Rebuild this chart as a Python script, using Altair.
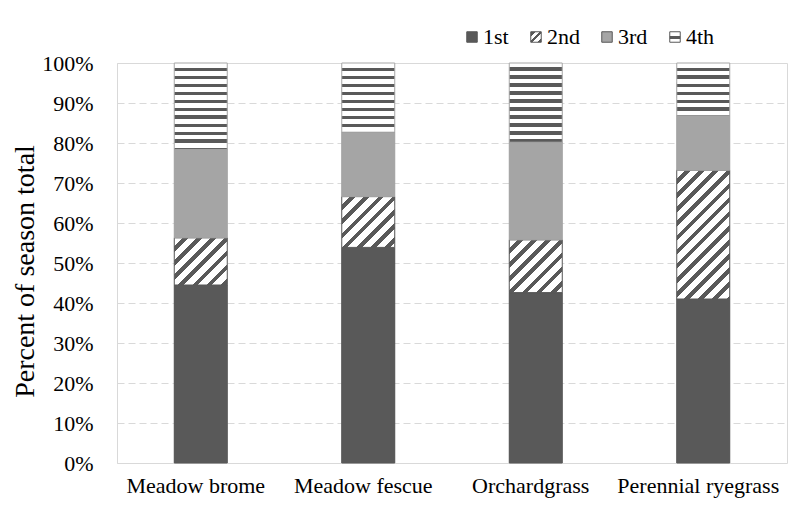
import math
import altair as alt
import pandas as pd

grasses = ["Meadow brome", "Meadow fescue", "Orchardgrass", "Perennial ryegrass"]
stages = ["1st", "2nd", "3rd", "4th"]
first = [44.5, 53.9, 42.6, 41.0]
second = [11.8, 12.7, 13.2, 32.2]
third = [22.1, 16.1, 24.4, 13.6]
fourth = [21.6, 17.3, 19.8, 13.2]
y_ticks = [0, 10, 20, 30, 40, 50, 60, 70, 80, 90, 100]

series = [first, second, third, fourth]
rows = []
for si, (stage, vals) in enumerate(zip(stages, series)):
    for g, v in zip(grasses, vals):
        rows.append({"grass": g, "stage": stage, "ord": si, "pct": v})
df = pd.DataFrame(rows)

DARK = "#595959"
LIGHT = "#a5a5a5"
WHITE = "#ffffff"
FONT = "Liberation Serif"

PLOT_W, PLOT_H = 670, 400
BAR_W = 53
PX = PLOT_H / 100.0  # pixels per percent


def stops(n, dark_frac, lead=WHITE, tail=DARK):
    out = []
    for i in range(n):
        a = i / n
        b = (i + 1) / n
        m = a + (1 - dark_frac) / n
        out.append("{offset:%.5f,color:'%s'}" % (a, lead))
        out.append("{offset:%.5f,color:'%s'}" % (m, lead))
        out.append("{offset:%.5f,color:'%s'}" % (m, tail))
        out.append("{offset:%.5f,color:'%s'}" % (b, tail))
    return "[" + ",".join(out) + "]"


H = "((datum.pct_end - datum.pct_start) * %g)" % PX
# horizontal stripes: period 8px, dark 3.5px, covering 400px
L_H = 400.0
horiz = "{gradient:'linear',x1:0,y1:0,x2:0,y2:(%g / %s),stops:%s}" % (
    L_H, H, stops(50, 3.5 / 8))
# diagonal stripes at 45 deg, perpendicular period 10px
N_D = 22
D = N_D * 10 * math.sqrt(2)
den = "(%d + %s * %s)" % (BAR_W * BAR_W, H, H)
diag = "{gradient:'linear',x1:0,y1:0,x2:(%g * %d / %s),y2:(%g * %s / %s),stops:%s}" % (
    D, BAR_W, den, D, H, den, stops(N_D, 0.4))

fill_expr = ("datum.stage === '2nd' ? %s : datum.stage === '4th' ? %s : "
             "datum.stage === '1st' ? '%s' : '%s'") % (diag, horiz, DARK, LIGHT)
stroke_expr = ("datum.stage === '2nd' ? '%s' : datum.stage === '4th' ? '#a6a6a6' : "
               "datum.stage === '1st' ? '%s' : '%s'") % (DARK, DARK, LIGHT)

leg2 = ("{gradient:'linear',x1:0,y1:0,x2:1,y2:1,stops:["
        "{offset:0,color:'%s'},{offset:0.22,color:'%s'},{offset:0.22,color:'%s'},"
        "{offset:0.44,color:'%s'},{offset:0.44,color:'%s'},{offset:0.58,color:'%s'},"
        "{offset:0.58,color:'%s'},{offset:0.8,color:'%s'},{offset:0.8,color:'%s'},"
        "{offset:1,color:'%s'}]}") % (DARK, DARK, WHITE, WHITE, DARK, DARK,
                                       WHITE, WHITE, DARK, DARK)
leg4 = ("{gradient:'linear',x1:0,y1:0,x2:0,y2:1,stops:["
        "{offset:0,color:'%s'},{offset:0.36,color:'%s'},{offset:0.36,color:'%s'},"
        "{offset:0.66,color:'%s'},{offset:0.66,color:'%s'},{offset:1,color:'%s'}]}") % (
    WHITE, WHITE, DARK, DARK, WHITE, WHITE)

x_enc = alt.X("grass:N", sort=grasses,
              scale=alt.Scale(paddingInner=0, paddingOuter=0),
              axis=alt.Axis(title=None, labelAngle=0, ticks=False, domain=False,
                            labelFont=FONT, labelFontSize=22, labelColor="black",
                            labelPadding=12, labelOffset=-5))
y_enc = alt.Y("pct:Q", stack="zero",
              scale=alt.Scale(domain=[0, 100], nice=False),
              axis=alt.Axis(title="Percent of season total", values=y_ticks,
                            labelExpr="datum.value + '%'", ticks=False, domain=False,
                            labelFont=FONT, labelFontSize=22, labelColor="black",
                            labelPadding=24, titleFont=FONT, titleFontSize=28,
                            titleFontWeight="normal", titleColor="black",
                            titlePadding=2, titleY=208, grid=True,
                            gridColor="#d9d9d9", gridDash=[7, 4], gridWidth=1))
order_enc = alt.Order("ord:Q", sort="ascending")

base = alt.Chart().mark_bar(size=BAR_W).encode(
    x=x_enc, y=y_enc, order=order_enc,
    color=alt.Color("stage:N",
                    scale=alt.Scale(domain=stages,
                                    range=[DARK, alt.ExprRef(expr=leg2), LIGHT,
                                           alt.ExprRef(expr=leg4)]),
                    legend=alt.Legend(title=None, orient="none", direction="horizontal",
                                      legendX=344, legendY=-37, symbolType="square",
                                      symbolSize=110, symbolStrokeColor=DARK,
                                      symbolStrokeWidth=1, labelFont=FONT,
                                      labelFontSize=22, labelColor="black",
                                      labelOffset=0, columnPadding=16)),
)

overlay = alt.Chart().mark_bar(
    size=BAR_W,
    fill=alt.ExprRef(expr=fill_expr),
    stroke=alt.ExprRef(expr=stroke_expr),
    strokeWidth=1,
).encode(x=x_enc, y=y_enc, order=order_enc, detail="stage:N")

chart = alt.layer(base, overlay, data=df).properties(
    width=PLOT_W, height=PLOT_H,
    autosize=alt.AutoSizeParams(type="none"),
    padding={"left": 109, "top": 55, "right": 1, "bottom": 36},
).configure(
    background="white", font=FONT
).configure_view(
    stroke="#d9d9d9", strokeWidth=1
).configure_legend(
    labelFont=FONT, labelFontSize=22, labelColor="black"
)

chart.save("out.html", embed_options={"renderer": "svg", "actions": False})
